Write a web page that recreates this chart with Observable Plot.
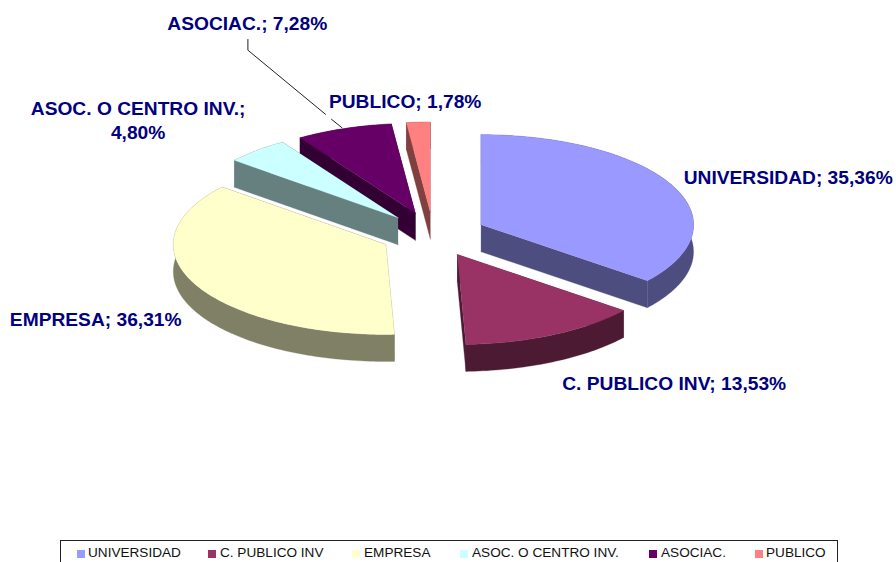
<!DOCTYPE html>
<html>
<head>
<meta charset="utf-8">
<script src="https://cdn.jsdelivr.net/npm/d3@7"></script>
<script src="https://cdn.jsdelivr.net/npm/@observablehq/plot@0.6"></script>
<style>
html,body{margin:0;padding:0;background:#fff;overflow:hidden}
#chart svg{display:block;background:#fff}
#legend{position:absolute;left:60px;top:540px;width:776px;height:30px;border:1px solid #222;box-sizing:content-box;font:13.6px "Liberation Sans",Arial,sans-serif;color:#111}
#legend span{position:absolute;white-space:nowrap}
#legend i{position:absolute;width:8px;height:8px;top:9px}
</style>
</head>
<body>
<div id="chart"></div>
<div id="legend"></div>
<script>
// Data
const categories = ["UNIVERSIDAD","C. PUBLICO INV","EMPRESA","ASOC. O CENTRO INV.","ASOCIAC.","PUBLICO"];
const values = [35.36,13.53,36.31,4.80,7.28,1.78];
// Style
const topColors  = ["#9999FF","#993366","#FFFFCC","#CCFFFF","#660066","#FF8080"];
const sideColors = ["#4D4D80","#4D1A33","#808066","#668080","#330033","#804040"];
// Layout of the tilted pie
const W = 896, H = 540;
const cx = 432.8, cy = 234, rx = 212.5, ry = 90, depth = 27, explode = 53;
const drawOrder = [5,4,3,0,2,1];
const labelCentres = [[787.7,175.5],[673.7,381.5],[95.2,317.5],[137.6,118.5],[246.8,21.5],[404.7,99.5]];
const legendSwatch = [16,147,291,399,588,694];
const legendText = [27,159,303,411,600,705];

const arcs = d3.pie().sort(null)(values);
const polys = [];
function pt(a, o, r, dz){ // a: angle clockwise from top
  return {x:o.x + r*rx*Math.sin(a), y:o.y - r*ry*Math.cos(a) + dz};
}
function arcPts(o,a0,a1,dz){
  const n = Math.max(2,Math.ceil(Math.abs(a1-a0)/0.02)), out=[];
  for(let i=0;i<=n;i++) out.push(pt(a0+(a1-a0)*i/n,o,1,dz));
  return out;
}
function add(id,color,pts){ pts.forEach(p=>polys.push({id,color,x:p.x,y:p.y})); }
for(const i of drawOrder){
  const {startAngle:a0,endAngle:a1} = arcs[i];
  const mid=(a0+a1)/2;
  const o={x:cx+explode*Math.sin(mid), y:cy-explode*(ry/rx)*Math.cos(mid)};
  const A={x:o.x,y:o.y}, B={x:o.x,y:o.y+depth};
  const s=pt(a0,o,1,0), s2=pt(a0,o,1,depth), e=pt(a1,o,1,0), e2=pt(a1,o,1,depth);
  add(i+"w0",sideColors[i],[A,s,s2,B]);
  add(i+"w1",sideColors[i],[A,e,e2,B]);
  add(i+"r",sideColors[i],[...arcPts(o,a0,a1,0),...arcPts(o,a1,a0,depth)]);
  add(i+"t",topColors[i],[A,...arcPts(o,a0,a1,0)]);
}
const fmt = v => v.toFixed(2).replace(".",",");
const labels = categories.map((c,i)=>({
  text: c==="ASOC. O CENTRO INV." ? c+";\n"+fmt(values[i])+"%" : c+"; "+fmt(values[i])+"%",
  x: labelCentres[i][0], y: labelCentres[i][1]
}));
const leader = [
  {s:0,x:247.4,y:39},{s:0,x:247.4,y:49.7},{s:0,x:325,y:113.8},
  {s:1,x:331,y:118.8},{s:1,x:341.7,y:127.4}
];

const plot = Plot.plot({
  width:W,height:H,margin:0,
  x:{domain:[0,W],range:[0,W],axis:null},
  y:{domain:[0,H],range:[0,H],axis:null},
  color:{type:"identity"},
  style:{background:"#fff"},
  marks:[
    Plot.line(polys,{x:"x",y:"y",z:"id",fill:"color",stroke:"color",strokeWidth:0.3,curve:"linear"}),
    Plot.line(leader,{x:"x",y:"y",z:"s",stroke:"#222",strokeWidth:1}),
    Plot.text(labels,{x:"x",y:"y",text:"text",fill:"#000080",fontSize:19.2,fontWeight:"bold",fontFamily:"Liberation Sans, Arial, sans-serif",textAnchor:"middle",lineHeight:1.25})
  ]
});
document.getElementById("chart").appendChild(plot);

const lg=document.getElementById("legend");
categories.forEach((c,i)=>{
  const sw=document.createElement("i");
  sw.style.left=legendSwatch[i]+"px";sw.style.background=topColors[i];lg.appendChild(sw);
  const t=document.createElement("span");
  t.textContent=c;t.style.left=legendText[i]+"px";t.style.top=4+"px";lg.appendChild(t);
});
</script>
</body>
</html>
